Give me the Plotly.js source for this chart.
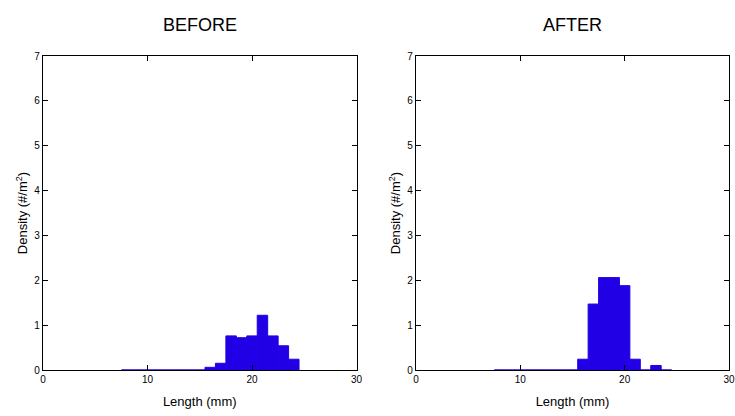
<!DOCTYPE html>
<html>
<head>
<meta charset="utf-8">
<script src="https://cdn.plot.ly/plotly-3.0.1.min.js"></script>
<style>html,body{margin:0;padding:0;background:#fff;}#chart{width:735px;height:416px;}</style>
</head>
<body>
<div id="chart"></div>
<script>
const lengthBins = [8, 9, 10, 11, 12, 13, 14, 15, 16, 17, 18, 19, 20, 21, 22, 23, 24];
const beforeDensity = [0, 0, 0, 0, 0, 0, 0, 0, 0.06, 0.15, 0.76, 0.72, 0.76, 1.22, 0.76, 0.54, 0.24];
const afterDensity  = [0, 0, 0, 0, 0, 0, 0, 0, 0.24, 1.47, 2.06, 2.06, 1.88, 0.24, 0, 0.1, 0];
const panelTitles = ["BEFORE", "AFTER"];
const xTicks = [0, 10, 20, 30];
const yTicks = [0, 1, 2, 3, 4, 5, 6, 7];

const barColor = "rgb(34,0,230)";
function barTrace(y, xa, ya) {
  return {
    type: "bar", x: lengthBins, y: y, width: 1,
    xaxis: xa, yaxis: ya,
    marker: {color: barColor, line: {color: barColor, width: 1}},
    hoverinfo: "x+y", showlegend: false
  };
}
const axisFont = {family: "Arial, Liberation Sans, sans-serif", size: 10, color: "#000"};
const titleFont = {family: "Arial, Liberation Sans, sans-serif", size: 13, color: "#000"};
function xAxis(domain, anchor) {
  return {
    domain: domain, anchor: anchor, range: [0, 30], tickvals: xTicks,
    ticks: "inside", ticklen: 5, tickwidth: 1, tickcolor: "#000",
    showline: true, linecolor: "#000", linewidth: 1.2, mirror: "allticks",
    showgrid: false, zeroline: false, tickfont: axisFont,
    title: {text: "Length (mm)", font: titleFont, standoff: 12}
  };
}
function yAxis(anchor) {
  return {
    domain: [0, 1], anchor: anchor, range: [0, 7], tickvals: yTicks,
    ticks: "inside", ticklen: 5, tickwidth: 1, tickcolor: "#000",
    showline: true, linecolor: "#000", linewidth: 1.2, mirror: "allticks",
    showgrid: false, zeroline: false, tickfont: axisFont,
    title: {text: "Density (#/m<sup>2</sup>)", font: titleFont, standoff: 3}
  };
}
const data = [barTrace(beforeDensity, "x", "y"), barTrace(afterDensity, "x2", "y2")];
const layout = {
  width: 735, height: 416,
  margin: {l: 43, r: 6, t: 56, b: 46},
  paper_bgcolor: "#fff", plot_bgcolor: "#fff",
  bargap: 0,
  xaxis: xAxis([0, 0.457], "y"),
  yaxis: yAxis("x"),
  xaxis2: xAxis([0.5437, 1], "y2"),
  yaxis2: yAxis("x2"),
  annotations: [
    {text: panelTitles[0], xref: "x domain", yref: "paper", x: 0.5, y: 1, yshift: 43, showarrow: false,
     font: {family: "Arial, Liberation Sans, sans-serif", size: 18, color: "#000"}},
    {text: panelTitles[1], xref: "x2 domain", yref: "paper", x: 0.5, y: 1, yshift: 43, showarrow: false,
     font: {family: "Arial, Liberation Sans, sans-serif", size: 18, color: "#000"}}
  ]
};
Plotly.newPlot("chart", data, layout, {displayModeBar: false, staticPlot: true});
</script>
</body>
</html>
